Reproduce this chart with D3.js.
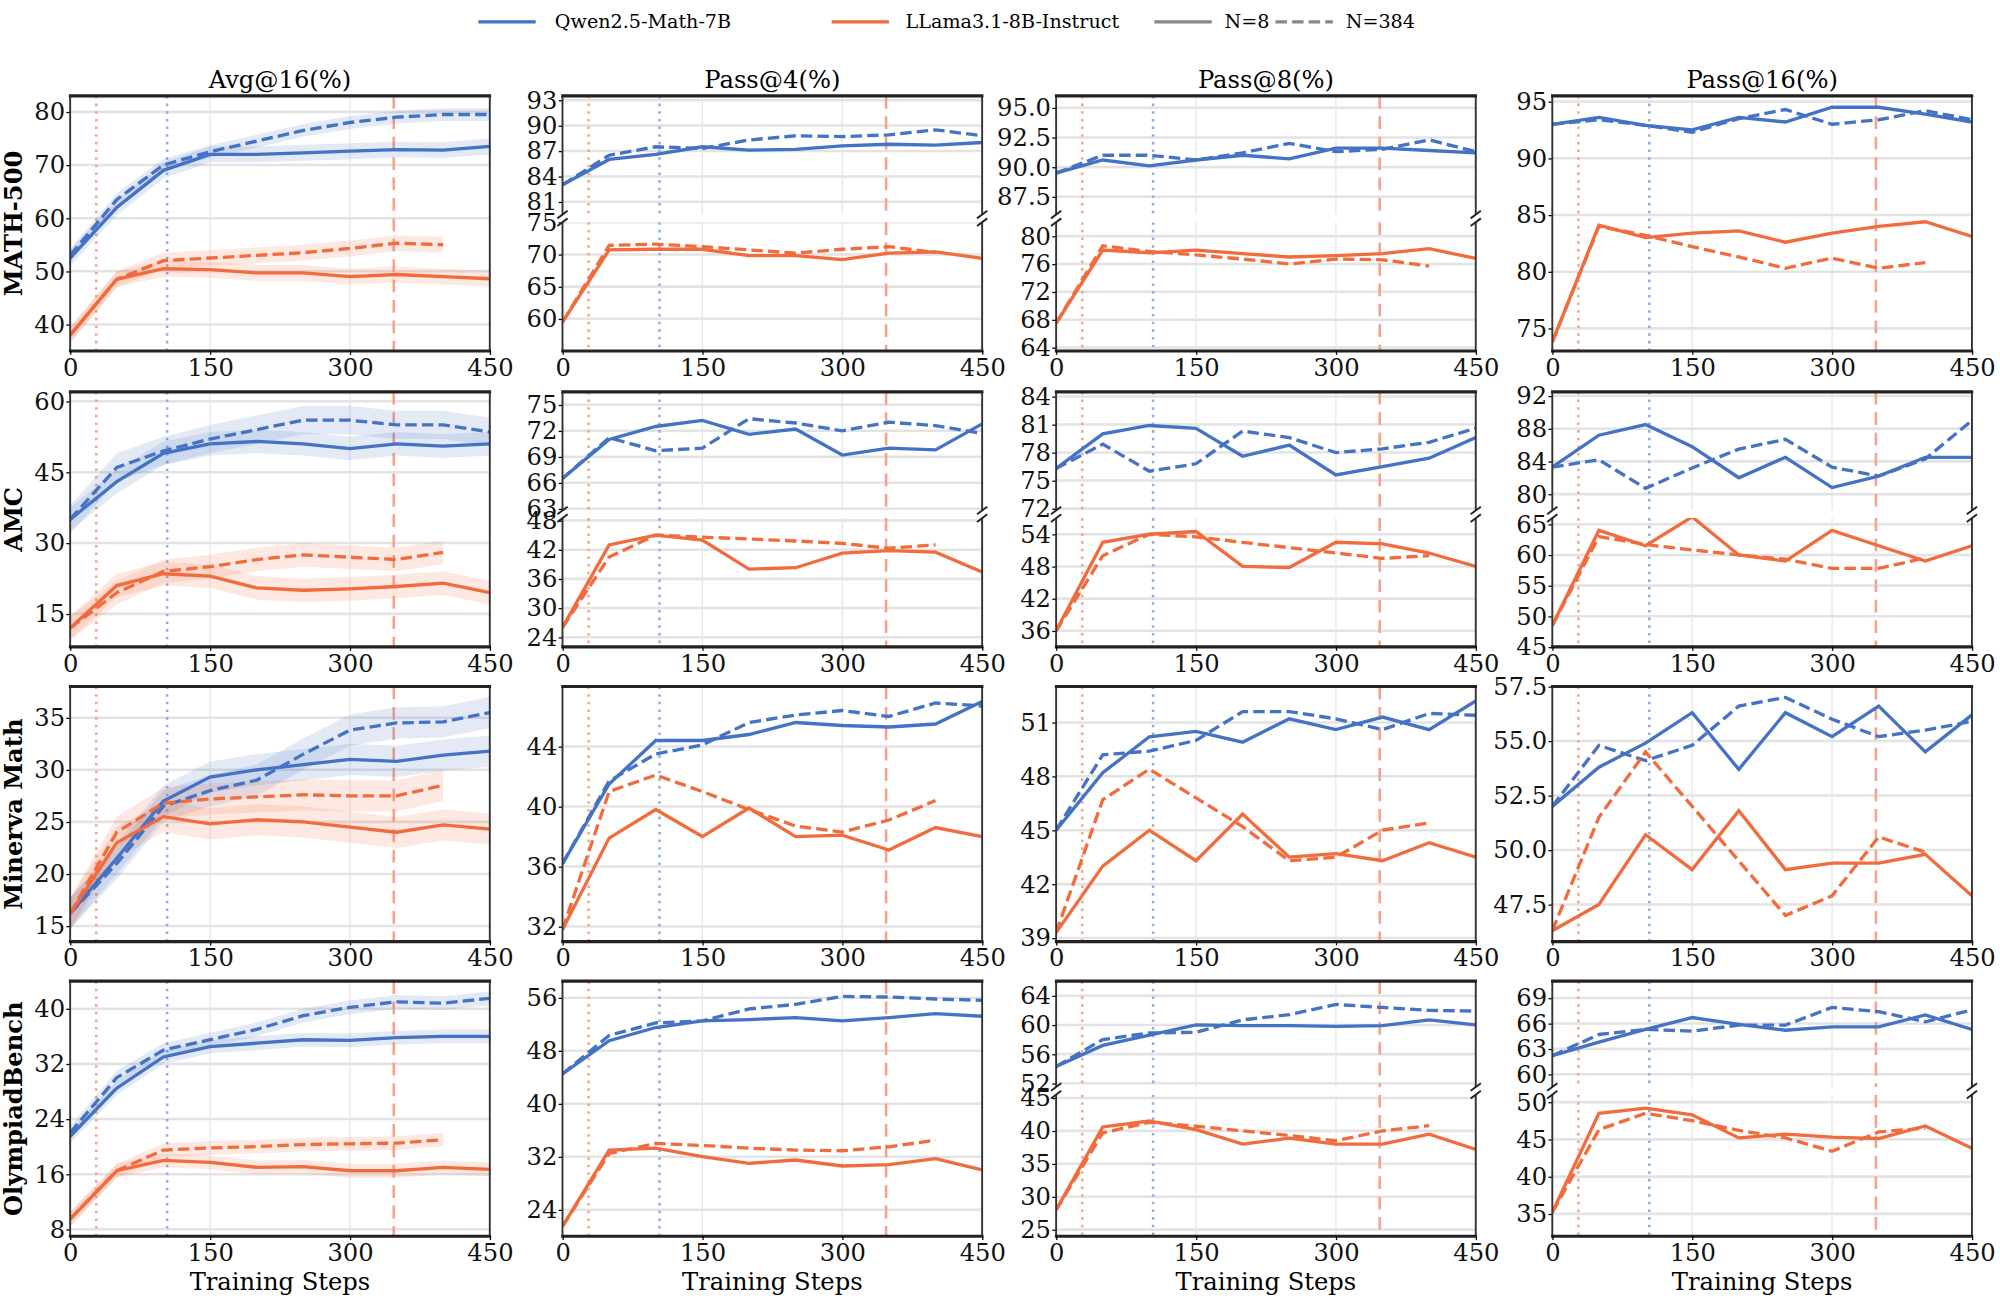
<!DOCTYPE html>
<html><head><meta charset="utf-8">
<script src="https://cdn.jsdelivr.net/npm/d3@7/dist/d3.min.js"></script>
<style>body{margin:0;background:#fff}svg{display:block}text{font-family:"DejaVu Serif",serif}</style>
</head><body><svg id="c" width="2000" height="1299" viewBox="0 0 1568 1018"></svg>
<script>
const steps=[0,50,100,150,200,250,300,350,400,450];
const datasets=["MATH-500","AMC","Minerva Math","OlympiadBench"];
const metrics=["Avg@16(%)","Pass@4(%)","Pass@8(%)","Pass@16(%)"];
const xTicks=[0,150,300,450];
const refLines=[{x:28,c:"#f4a58a",d:"2,4"},{x:104,c:"#8fb0dc",d:"2,4"},{x:347,c:"#f7a288",d:"10,6"}];
const qwenN8=[
[[52.5,62,69,72,72,72.3,72.6,72.9,72.8,73.5],[83,86,86.6,87.5,87.1,87.2,87.6,87.8,87.7,88],[89.5,90.6,90.1,90.6,91,90.7,91.6,91.6,91.4,91.2],[93,93.6,92.9,92.5,93.6,93.2,94.5,94.5,93.9,93.2]],
[[35,43,49,51,51.5,51,50,51,50.5,51],[66.5,71,72.5,73.2,71.6,72.2,69.2,70,69.8,72.8],[76.3,80,80.9,80.6,77.6,78.8,75.6,76.5,77.4,79.6],[83.3,87.2,88.5,85.8,82,84.5,80.8,82.2,84.5,84.5]],
[[16.2,21.5,27,29.3,30,30.5,31,30.8,31.4,31.8],[36.2,41.5,44.4,44.4,44.8,45.6,45.4,45.3,45.5,47],[45,48.2,50.2,50.5,49.9,51.2,50.6,51.3,50.6,52.2],[52,53.8,54.9,56.3,53.7,56.3,55.2,56.6,54.5,56.2]],
[[21.5,28.5,33,34.5,35,35.5,35.4,35.8,36,36],[44.5,49.5,51.5,52.5,52.7,53,52.5,53,53.6,53.2],[54.3,57.2,58.6,60,59.9,59.9,59.8,59.9,60.7,60],[62.2,63.8,65.3,66.7,65.9,65.2,65.6,65.6,67,65.3]]];
const qwenN384=[
[[53,63.5,70,72.5,74.5,76.5,78,79,79.5,79.5],[83,86.5,87.5,87.3,88.3,88.8,88.7,88.9,89.5,88.8],[89.5,91,91,90.6,91.2,92,91.3,91.5,92.3,91.3],[93,93.4,92.9,92.3,93.5,94.3,93,93.4,94.2,93.4]],
[[35,46,49.5,52,54,56,56,55,55,53.5],[66.5,71.2,69.7,70,73.4,72.9,72,73,72.6,71.7],[76.3,78.9,76,76.8,80.3,79.6,78,78.4,79.1,80.6],[83.3,84.2,80.7,83.2,85.5,86.7,83.3,82.2,84.3,89]],
[[16.2,21,26.5,28,29,31.5,33.8,34.5,34.6,35.5],[36.2,41.7,43.5,44.1,45.6,46.1,46.4,46,46.9,46.7],[45,49.2,49.4,50,51.6,51.6,51.2,50.6,51.5,51.4],[52,54.8,54.1,54.8,56.6,57,56,55.2,55.5,55.9]],
[[22,30,34,35.5,37,39,40.2,41,40.8,41.5],[44.5,50.3,52.2,52.5,54.3,55,56.2,56.1,55.8,55.6],[54.3,58,58.9,59,60.7,61.4,62.8,62.4,62,61.9],[62.2,64.7,65.3,65.1,65.8,65.8,67.9,67.4,66.2,67.6]]];
const llamaN8=[
[[38,48.5,50.5,50.3,49.7,49.7,49,49.4,49,48.6],[59.5,70.7,70.8,70.8,69.8,69.8,69.2,70.2,70.4,69.4],[67.5,78,77.6,78,77.5,77,77.2,77.5,78.2,76.8],[73.8,84.1,83,83.4,83.6,82.6,83.4,84,84.4,83.1]],
[[12,21,23.5,23,20.5,20,20.3,20.8,21.5,19.5],[26,43,45,44,38,38.3,41.3,41.8,41.5,37.4],[36,52.5,54,54.5,48,47.8,52.5,52.2,50.5,48],[48.5,64,61.5,66.2,60,59,64,61.5,59,61.5]],
[[16.2,23,25.5,24.8,25.2,25,24.5,24,24.7,24.3],[31.8,37.9,39.8,38,39.9,38,38.1,37.1,38.6,38],[39.3,43,45,43.3,45.9,43.5,43.7,43.3,44.3,43.5],[46.3,47.5,50.7,49.1,51.8,49.1,49.4,49.4,49.8,47.9]],
[[9.5,16.5,18,17.7,17,17.1,16.5,16.5,17,16.7],[21.5,33,33.3,32,31,31.5,30.6,30.8,31.7,30],[28,40.6,41.5,40.2,38,38.9,38,38,39.5,37.2],[35.2,48.5,49.2,48.3,45.2,45.7,45.3,45.1,46.8,43.8]]];
const llamaN384=[
[[38,48.5,52,52.5,53,53.5,54.3,55.3,55],[59.5,71.4,71.6,71.2,70.7,70.2,70.8,71.2,70.3],[67.5,78.6,77.8,77.3,76.7,76,76.7,76.6,75.7],[73.8,84,83.2,82.2,81.3,80.3,81.2,80.3,80.8]],
[[12,19.5,24,25,26.5,27.5,27,26.5,28],[26,40.5,45,44.6,44.2,43.8,43.3,42.3,43],[36,50,54,53.5,52.5,51.5,50.5,49.5,50],[48.5,63,61.7,60.8,60,59.3,57.8,57.8,59.5]],
[[16.2,24,26.8,27.2,27.4,27.6,27.5,27.5,28.5],[31.8,41,42.1,41,39.8,38.7,38.3,39.1,40.4],[39.3,46.7,48.4,46.8,45.2,43.3,43.5,45,45.4],[46.3,51.5,54.5,52,49.5,47,47.9,50.6,49.9]],
[[9.5,16.5,19.5,19.8,20,20.3,20.4,20.5,21],[21.5,32.5,34,33.7,33.3,33,32.9,33.5,34.5],[28,39.7,41.3,40.7,40,39.3,38.5,40,40.8],[35.2,46.3,48.5,47.5,46.2,45.2,43.4,46,46.5]]];
const bandHalf=[[1.5,1.2,1.5,1.5],[2.5,3,2.5,2.5],[1.5,1.5,1.5,1.5],[1,1,1,1]];
const axes=[
[{d:[35,83],t:[40,50,60,70,80]},{top:{d:[79.5,93.5],t:[81,84,87,90,93]},bot:{d:[55,75],t:[60,65,70,75]},f:0.48},{top:{d:[86,96],t:[87.5,90,92.5,95]},bot:{d:[63.5,82],t:[64,68,72,76,80]},f:0.48},{d:[73,95.5],t:[75,80,85,90,95]}],
[{d:[8,62],t:[15,30,45,60]},{top:{d:[62.8,76.5],t:[63,66,69,72,75]},bot:{d:[22,48.5],t:[24,30,36,42,48]},f:0.48},{top:{d:[71.8,84.5],t:[72,75,78,81,84]},bot:{d:[33,57],t:[36,42,48,54]},f:0.48},{top:{d:[78,92.5],t:[80,84,88,92]},bot:{d:[45,66],t:[45,50,55,60,65]},f:0.48}],
[{d:[13.5,38],t:[15,20,25,30,35]},{d:[31,48],t:[32,36,40,44]},{d:[38.8,53],t:[39,42,45,48,51]},{d:[45.8,57.5],t:[47.5,50,52.5,55,57.5]}],
[{d:[7,44],t:[8,16,24,32,40]},{d:[20,58.5],t:[24,32,40,48,56]},{top:{d:[51.5,66],t:[52,56,60,64]},bot:{d:[24,45.5],t:[25,30,35,40,45]},f:0.43},{top:{d:[58.5,71],t:[60,63,66,69]},bot:{d:[32,51],t:[35,40,45,50]},f:0.43}]];
const colX=[55,441,828,1217], PW=329, rowY=[75,307,538,769], PH=200;
const BLUE="#4472c4", ORANGE="#f26b3d";
const svg=d3.select("#c");
const x=d3.scaleLinear().domain([0,450]);
const FS=19;
function drawPart(g,y0,y1,ax,series,band,topSp,botSp,xr){
  const y=d3.scaleLinear().domain(ax.d).range([y1,y0]);
  const id="cl"+Math.random().toString(36).slice(2);
  g.append("clipPath").attr("id",id).append("rect").attr("x",xr[0]).attr("y",y0).attr("width",xr[1]-xr[0]).attr("height",y1-y0);
  const cg=g.append("g").attr("clip-path",`url(#${id})`);
  ax.t.forEach(t=>cg.append("line").attr("x1",xr[0]).attr("x2",xr[1]).attr("y1",y(t)).attr("y2",y(t)).attr("stroke","#e3e3e3").attr("stroke-width",2));
  [150,300].forEach(t=>cg.append("line").attr("x1",x(t)).attr("x2",x(t)).attr("y1",y0).attr("y2",y1).attr("stroke","#e6e6e6").attr("stroke-width",1));
  refLines.forEach(r=>cg.append("line").attr("x1",x(r.x)).attr("x2",x(r.x)).attr("y1",y0).attr("y2",y1).attr("stroke",r.c).attr("stroke-width",2).attr("stroke-dasharray",r.d));
  series.forEach((s,i)=>{
    const pts=s.v.map((v,j)=>[steps[j],v]);
    if(band) cg.append("path").attr("d",d3.area().x(p=>x(p[0])).y0(p=>y(p[1]-band[i])).y1(p=>y(p[1]+band[i]))(pts)).attr("fill",s.c).attr("opacity",0.15);
  });
  series.forEach(s=>{
    const pts=s.v.map((v,j)=>[steps[j],v]);
    cg.append("path").attr("d",d3.line().x(p=>x(p[0])).y(p=>y(p[1]))(pts)).attr("fill","none").attr("stroke",s.c).attr("stroke-width",2.6).attr("stroke-dasharray",s.dash?"9,4":null);
  });
  const ya=g.append("g").attr("transform",`translate(${xr[0]},0)`).call(d3.axisLeft(y).tickValues(ax.t).tickSize(3).tickFormat(d=>ax.t.some(t=>t%1)?d.toFixed(1):d));
  ya.select(".domain").remove();
  ya.selectAll("text").attr("font-size",FS).attr("font-family","DejaVu Serif").attr("fill","#111").attr("dx",2);
  g.append("line").attr("x1",xr[0]).attr("x2",xr[0]).attr("y1",y0).attr("y2",y1).attr("stroke","#333").attr("stroke-width",1.5);
  g.append("line").attr("x1",xr[1]).attr("x2",xr[1]).attr("y1",y0).attr("y2",y1).attr("stroke","#333").attr("stroke-width",1.5);
  if(topSp) g.append("line").attr("x1",xr[0]-1).attr("x2",xr[1]+1).attr("y1",y0).attr("y2",y0).attr("stroke","#222").attr("stroke-width",2.5);
  if(botSp) g.append("line").attr("x1",xr[0]-1).attr("x2",xr[1]+1).attr("y1",y1).attr("y2",y1).attr("stroke","#222").attr("stroke-width",2.5);
}
for(let r=0;r<4;r++)for(let c=0;c<4;c++){
  const X0=colX[c],X1=X0+PW,Y0=rowY[r],Y1=Y0+PH;
  x.range([X0,X1]);
  const g=svg.append("g");
  const q=[{v:qwenN8[r][c],c:BLUE},{v:qwenN384[r][c],c:BLUE,dash:1}];
  const l=[{v:llamaN8[r][c],c:ORANGE},{v:llamaN384[r][c],c:ORANGE,dash:1}];
  const ax=axes[r][c];
  if(ax.top){
    const yb=Y0+PH*ax.f;
    drawPart(g,Y0,yb-3,ax.top,q,null,true,false,[X0,X1]);
    drawPart(g,yb+3,Y1,ax.bot,l,null,false,true,[X0,X1]);
    [X0,X1].forEach(xx=>{[-3,3].forEach(o=>g.append("line").attr("x1",xx-4).attr("x2",xx+4).attr("y1",yb+o+3).attr("y2",yb+o-3).attr("stroke","#222").attr("stroke-width",1.5));});
  } else {
    drawPart(g,Y0,Y1,ax,q.concat(l),c===0?bandHalf[r]:null,true,true,[X0,X1]);
  }
  const xa=g.append("g").attr("transform",`translate(0,${Y1})`).call(d3.axisBottom(x).tickValues(xTicks).tickSize(3));
  xa.select(".domain").remove();
  xa.selectAll("text").attr("font-size",FS).attr("font-family","DejaVu Serif").attr("fill","#111");
  if(r===0) svg.append("text").attr("x",(X0+X1)/2).attr("y",Y0-6).attr("text-anchor","middle").attr("font-size",19).text(metrics[c]);
  if(r===3) svg.append("text").attr("x",(X0+X1)/2).attr("y",Y1+42).attr("text-anchor","middle").attr("font-size",19).text("Training Steps");
  if(c===0) svg.append("text").attr("transform",`translate(17,${(Y0+Y1)/2}) rotate(-90)`).attr("text-anchor","middle").attr("font-size",19).attr("font-weight","bold").text(datasets[r]);
}
const leg=[{t:"Qwen2.5-Math-7B",c:BLUE,x:375,tx:435},{t:"LLama3.1-8B-Instruct",c:ORANGE,x:652,tx:710},{t:"N=8",c:"#888",x:905,tx:960},{t:"N=384",c:"#888",x:1000,tx:1055,dash:1}];
leg.forEach(e=>{
  svg.append("line").attr("x1",e.x).attr("x2",e.x+45).attr("y1",17).attr("y2",17).attr("stroke",e.c).attr("stroke-width",2.6).attr("stroke-dasharray",e.dash?"9,4":null);
  svg.append("text").attr("x",e.tx).attr("y",22).attr("font-size",15).text(e.t);
});
</script></body></html>
